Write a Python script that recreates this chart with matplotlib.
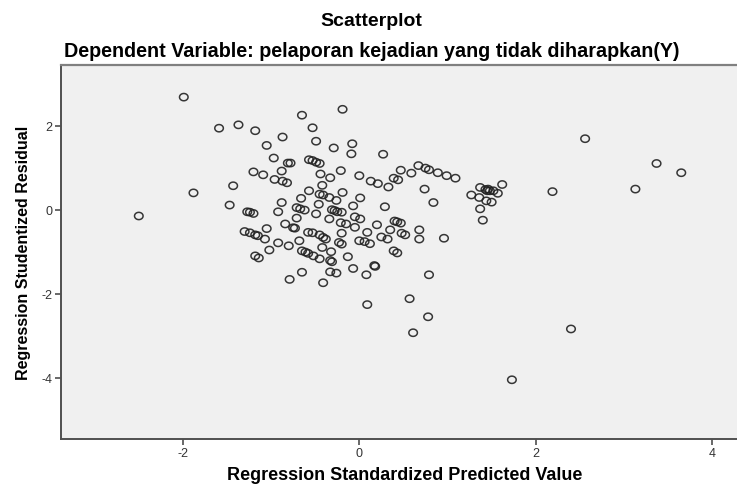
import numpy as np
import matplotlib
matplotlib.use("Agg")
import matplotlib.pyplot as plt
from matplotlib.path import Path

plt.rcParams['font.family'] = ['Liberation Sans', 'DejaVu Sans']
plt.rcParams['axes.unicode_minus'] = False   # SPSS 用普通连字符

# ==== data: standardized predicted value (x) vs studentized residual (y) ====
pred_x = [
    -1.99, -0.65, -1.59, -1.37, -1.18, -0.87, -1.05, -0.53, -0.97, -0.81,
    -0.78, -0.57, -0.53, -0.49, -0.45, -0.88, -1.20, -1.09, -0.96, -0.87,
    -0.82, -1.43, -1.88, -1.47, -2.50, -0.66, -0.57, -0.88, -0.71, -0.67,
    -0.62, -1.27, -1.24, -1.20, -0.92, -0.71, -0.84, -0.75, -0.73, -1.05,
    -1.30, -1.24, -1.18, -1.15, -1.07, -0.92, -0.68, -0.58, -0.80, -1.02,
    -1.18, -1.14, -0.65, -0.61, -0.58, -0.52, -0.65, -0.79, -0.19, -0.49,
    -0.29, -0.08, -0.09, 0.27, -0.44, -0.33, -0.21, 0.00, -0.42, 0.13,
    0.21, 0.33, 0.39, 0.44, 0.47, 0.59, 0.67, 0.75, 0.79, 0.89,
    0.99, 1.09, 0.74, 0.84, -0.45, -0.41, -0.34, -0.26, -0.19, 0.01,
    -0.46, -0.31, -0.28, -0.25, -0.20, -0.07, 0.29, -0.49, -0.34, -0.21,
    -0.15, -0.05, 0.01, -0.05, 0.20, 0.40, 0.43, 0.47, 0.09, 0.35,
    0.68, -0.53, -0.45, -0.41, -0.38, -0.20, 0.48, 0.52, 0.25, 0.32,
    0.00, 0.06, 0.12, 0.68, 0.96, -0.23, -0.20, -0.42, 1.37, 1.43,
    1.45, 1.48, 1.52, 1.46, 1.62, 1.57, 1.27, 1.36, 1.44, 1.50,
    1.37, 1.40, 2.19, 2.56, 3.37, 3.65, 3.13, -0.32, -0.45, -0.33,
    -0.31, -0.13, 0.39, 0.43, 0.17, 0.18, -0.07, 0.08, -0.33, -0.26,
    -0.41, 0.79, 0.57, 0.09, 0.78, 0.61, 2.40, 1.73,
]
resid_y = [
    2.68, 2.25, 1.94, 2.02, 1.88, 1.73, 1.53, 1.95, 1.23, 1.11,
    1.11, 1.19, 1.17, 1.13, 1.10, 0.92, 0.90, 0.83, 0.72, 0.68,
    0.64, 0.57, 0.40, 0.11, -0.15, 0.27, 0.45, 0.17, 0.05, 0.02,
    -0.01, -0.05, -0.06, -0.09, -0.05, -0.20, -0.34, -0.43, -0.44, -0.45,
    -0.52, -0.55, -0.60, -0.62, -0.70, -0.79, -0.74, -0.54, -0.86, -0.96,
    -1.10, -1.15, -0.98, -1.01, -1.04, -1.10, -1.49, -1.66, 2.39, 1.63,
    1.47, 1.57, 1.33, 1.32, 0.85, 0.76, 0.93, 0.81, 0.58, 0.68,
    0.62, 0.54, 0.75, 0.71, 0.94, 0.87, 1.05, 0.99, 0.95, 0.88,
    0.81, 0.75, 0.49, 0.17, 0.37, 0.35, 0.29, 0.22, 0.41, 0.28,
    0.13, 0.00, -0.02, -0.05, -0.06, 0.09, 0.07, -0.10, -0.22, -0.31,
    -0.34, -0.17, -0.22, -0.42, -0.36, -0.27, -0.29, -0.32, -0.54, -0.48,
    -0.48, -0.55, -0.60, -0.66, -0.70, -0.56, -0.56, -0.60, -0.65, -0.70,
    -0.74, -0.76, -0.81, -0.70, -0.68, -0.78, -0.82, -0.90, 0.53, 0.48,
    0.45, 0.45, 0.45, 0.49, 0.60, 0.39, 0.35, 0.29, 0.21, 0.18,
    0.02, -0.25, 0.43, 1.69, 1.10, 0.88, 0.49, -1.00, -1.17, -1.21,
    -1.24, -1.12, -0.98, -1.03, -1.33, -1.35, -1.40, -1.55, -1.48, -1.51,
    -1.74, -1.55, -2.12, -2.26, -2.55, -2.93, -2.84, -4.05,
]
x_ticks = [-2, 0, 2, 4]
y_ticks = [-4, -2, 0, 2]

# SPSS 的圆圈略扁，用椭圆路径做 marker
t = np.linspace(0, 2 * np.pi, 41)
ellipse = Path(np.column_stack([np.cos(t), 0.85 * np.sin(t)]), closed=True)

fig = plt.figure(figsize=(7.37, 4.85), dpi=100)
ax = fig.add_axes([61 / 737, 45 / 485, 688 / 737, 374.3 / 485])
ax.set_facecolor('#F0F0F0')

ax.scatter(pred_x, resid_y, s=38, marker=ellipse, facecolors='none',
           edgecolors='#222222', linewidths=1.1, alpha=0.9)

ax.set_xlim(-3.382, 4.418)
ax.set_ylim(-5.46, 3.452)
ax.set_xticks(x_ticks)
ax.set_yticks(y_ticks)
ax.tick_params(direction='out', length=4, width=1.1, color='#404040',
               labelsize=9, labelcolor='#333333', pad=2)

for side in ['left', 'bottom']:
    ax.spines[side].set_color('#505050')
    ax.spines[side].set_linewidth(1.4)
ax.spines['top'].set_color('#808080')
ax.spines['top'].set_linewidth(1.6)
ax.spines['right'].set_visible(False)

ax.set_xlabel('Regression Standardized Predicted Value', fontsize=13,
              fontweight='bold', labelpad=5)
ax.set_ylabel('Regression Studentized Residual', fontsize=11.5,
              fontweight='bold', labelpad=8)

fig.text(371.5 / 737, 1 - 21 / 485, 'Scatterplot', ha='center', va='center',
         fontsize=14, fontweight='bold')
fig.text(371.5 / 737, 1 - 52 / 485,
         'Dependent Variable: pelaporan kejadian yang tidak diharapkan(Y)',
         ha='center', va='center', fontsize=14.2, fontweight='bold')

fig.savefig('out.png', dpi=100)
